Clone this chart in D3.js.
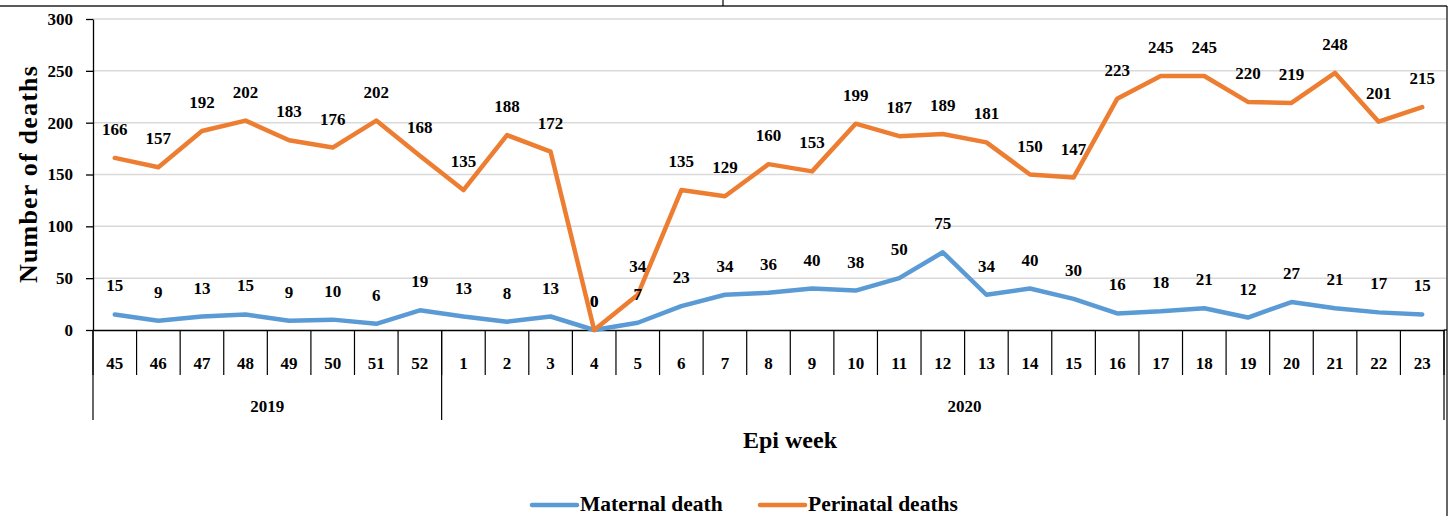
<!DOCTYPE html>
<html><head><meta charset="utf-8">
<script src="https://cdn.jsdelivr.net/npm/d3@7"></script>
<style>
body{margin:0;background:#fff}
svg{display:block}
text{font-family:"Liberation Serif","Times New Roman",serif;font-weight:bold;fill:#000}
</style>
</head><body>
<svg id="c" width="1448" height="516"></svg>
<script>
// ---- data ----
const weeks = ["45","46","47","48","49","50","51","52","1","2","3","4","5","6","7","8","9","10","11","12","13","14","15","16","17","18","19","20","21","22","23"];
const years = ["2019","2020"];
const yearWeekCounts = [8, 23];
const maternal = [15,9,13,15,9,10,6,19,13,8,13,0,7,23,34,36,40,38,50,75,34,40,30,16,18,21,12,27,21,17,15];
const perinatal = [166,157,192,202,183,176,202,168,135,188,172,0,34,135,129,160,153,199,187,189,181,150,147,223,245,245,220,219,248,201,215];
const yTicks = [0,50,100,150,200,250,300];
const seriesNames = ["Maternal death","Perinatal deaths"];
const colors = ["#5B9BD5","#ED7D31"];

// ---- drawing ----
(function(){
const svg = d3.select("#c");
const pL = 93, pR = 1444, pT = 19, pB = 330;
const x = d3.scaleBand().domain(weeks).range([pL, pR]).padding(0);
const y = d3.scaleLinear().domain([0, 300]).range([pB, pT]);
const bw = x.bandwidth();
const cx = (i) => x(weeks[i]) + bw / 2;

// frame decorations
svg.append("line").attr("x1",0).attr("x2",1447).attr("y1",6).attr("y2",6).attr("stroke","#595959").attr("stroke-width",2);
svg.append("line").attr("x1",723).attr("x2",723).attr("y1",0).attr("y2",6).attr("stroke","#000").attr("stroke-width",1.2);
svg.append("line").attr("x1",1447).attr("x2",1447).attr("y1",6).attr("y2",516).attr("stroke","#000").attr("stroke-width",1.2);

// gridlines
svg.append("g").selectAll("line").data(yTicks.filter(t => t > 0)).join("line")
  .attr("x1", pL).attr("x2", 1446)
  .attr("y1", d => y(d)).attr("y2", d => y(d))
  .attr("stroke", "#d9d9d9").attr("stroke-width", 1.5);

// y axis
const ya = svg.append("g").attr("transform", `translate(${pL},0)`)
  .call(d3.axisLeft(y).tickValues(yTicks).tickSize(7).tickSizeOuter(0).tickPadding(13));
ya.attr("font-family", null).attr("font-size", null);
ya.selectAll("text").style("font-size", "17px");
ya.selectAll("line,path").attr("stroke", "#000").attr("stroke-width", 1.3);

// x axis
const xa = svg.append("g").attr("transform", `translate(0,${pB})`)
  .call(d3.axisBottom(x).tickSize(0).tickSizeOuter(0).tickPadding(27));
xa.attr("font-family", null).attr("font-size", null);
xa.selectAll("text").style("font-size", "17px");
xa.select("path").attr("stroke", "#000").attr("stroke-width", 1.3);
svg.append("line").attr("x1", pR).attr("x2", 1447).attr("y1", pB).attr("y2", pB).attr("stroke", "#000").attr("stroke-width", 1.3);

// category dividers
const divs = weeks.map(w => x(w)).concat([pR]);
svg.append("g").selectAll("line").data(divs).join("line")
  .attr("x1", d => d).attr("x2", d => d).attr("y1", pB).attr("y2", 375)
  .attr("stroke", "#000").attr("stroke-width", 1.2);

// year groups
let start = 0;
const groups = years.map((yr, k) => {
  const s = start; start += yearWeekCounts[k];
  return { yr, x0: x(weeks[s]), x1: start < weeks.length ? x(weeks[start]) : pR, s, e: start };
});
svg.append("g").selectAll("line").data([groups[0].x0].concat(groups.map(g => g.x1))).join("line")
  .attr("x1", d => d).attr("x2", d => d).attr("y1", pB).attr("y2", 420)
  .attr("stroke", "#000").attr("stroke-width", 1.2);
svg.append("g").selectAll("text").data(groups).join("text")
  .attr("x", (g, k) => k === 0 ? (g.x0 + g.x1) / 2 : x(weeks[g.s + 12]))
  .attr("y", 412).attr("text-anchor", "middle").style("font-size", "17px")
  .text(g => g.yr);

// lines
const line = d3.line().x((d, i) => cx(i)).y(d => y(d));
[maternal, perinatal].forEach((s, k) => {
  svg.append("path").datum(s).attr("d", line)
    .attr("fill", "none").attr("stroke", colors[k]).attr("stroke-width", 4.5)
    .attr("stroke-linejoin", "round").attr("stroke-linecap", "round");
});

// value labels
[maternal, perinatal].forEach((s, k) => {
  svg.append("g").selectAll("text").data(s).join("text")
    .attr("x", (d, i) => cx(i)).attr("y", d => y(d) - 23)
    .attr("text-anchor", "middle").style("font-size", "17px")
    .text(d => d);
});

// axis titles
svg.append("text").attr("transform", "translate(37,174) rotate(-90)")
  .attr("text-anchor", "middle").style("font-size", "26px").style("letter-spacing", "1.2px")
  .text("Number of deaths");
svg.append("text").attr("x", 790).attr("y", 448).attr("text-anchor", "middle")
  .style("font-size", "24px").text("Epi week");

// legend
const legX = [532, 760];
seriesNames.forEach((n, k) => {
  svg.append("line").attr("x1", legX[k]).attr("x2", legX[k] + 45).attr("y1", 505).attr("y2", 505)
    .attr("stroke", colors[k]).attr("stroke-width", 4.5).attr("stroke-linecap", "round");
  svg.append("text").attr("x", legX[k] + 48).attr("y", 511).style("font-size", "21.5px").text(n);
});
})();
</script>
</body></html>
